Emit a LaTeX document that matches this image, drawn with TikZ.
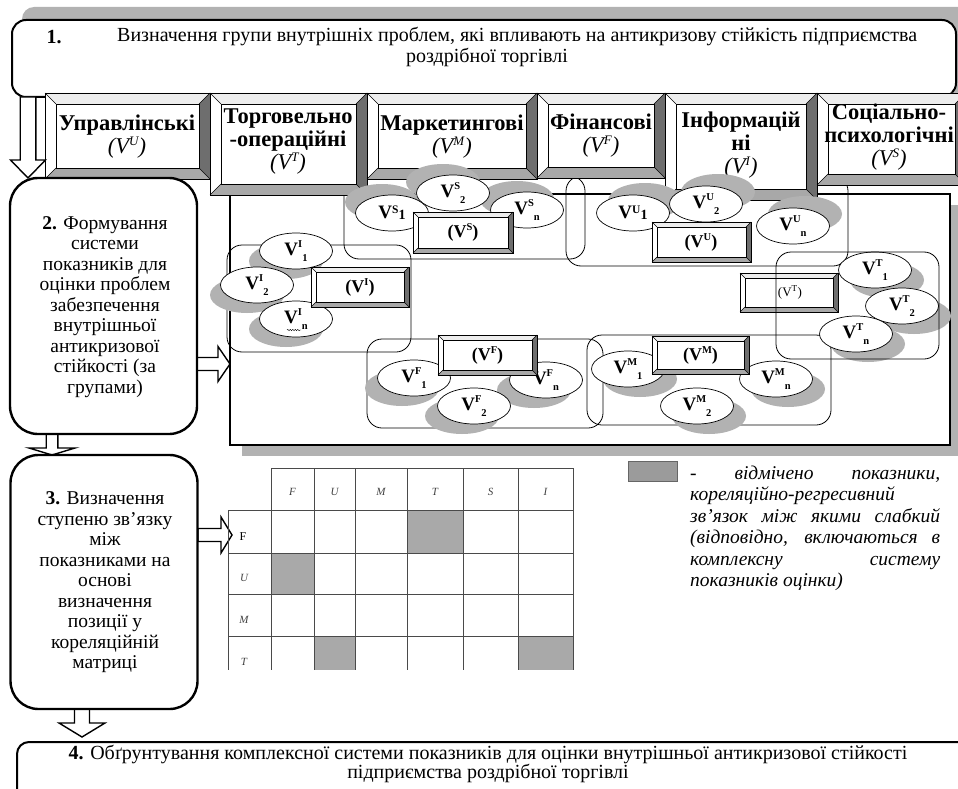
\documentclass[tikz,border=0pt]{standalone}
\usepackage{fontspec}
\setmainfont{Liberation Serif}
\usetikzlibrary{shapes.geometric,decorations.pathmorphing}
\definecolor{shd}{HTML}{B2B2B2}
\definecolor{bvdark}{HTML}{6E6E6E}
\definecolor{bvmid}{HTML}{A8A8A8}
\definecolor{bvlight}{HTML}{EDEDED}
\definecolor{cellgray}{HTML}{A9A9A9}
\definecolor{gridc}{HTML}{4A4A4A}
\definecolor{leggray}{HTML}{9B9B9B}
\newcommand\bodyfont{\fontsize{19.5}{20.5}\selectfont}
\newcommand\topfont{\fontsize{20}{20}\selectfont}
\newcommand\catfont{\fontsize{22.5}{23}\selectfont\bfseries}
\newcommand\smallsz{\fontsize{10.5}{10.5}\selectfont}
\newcommand\vl[2]{V\raisebox{8pt}{\smallsz #1}\raisebox{-5.5pt}{\smallsz #2}}
\newcommand\vlb[2]{V\raisebox{5pt}{\fontsize{11.5}{11.5}\selectfont #1}\raisebox{-1pt}{\fontsize{14}{14}\selectfont #2}}
\newcommand\vsym[1]{(V\raisebox{7pt}{\smallsz #1})}
\newcommand\catsym[1]{{\mdseries\itshape (V\raisebox{8pt}{\fontsize{13}{13}\selectfont #1})}}
\newcommand\bevelbox[5]{%
  \fill[white] (#1,#2) rectangle (#3,#4);
  \fill[bvlight] (#1,#2) -- (#3,#2) -- ({#3-#5},{#2+#5}) -- ({#1+#5},{#2+#5}) -- cycle;
  \fill[white] (#1,#2) -- ({#1+#5},{#2+#5}) -- ({#1+#5},{#4-#5}) -- (#1,#4) -- cycle;
  \fill[bvdark] (#3,#2) -- (#3,#4) -- ({#3-#5},{#4-#5}) -- ({#3-#5},{#2+#5}) -- cycle;
  \fill[bvmid] (#1,#4) -- (#3,#4) -- ({#3-#5},{#4-#5}) -- ({#1+#5},{#4-#5}) -- cycle;
  \draw[bvline] (#1,#2) rectangle (#3,#4);
  \draw[bvline] ({#1+#5},{#2+#5}) rectangle ({#3-#5},{#4-#5});
  \draw[bvline] (#1,#2) -- ({#1+#5},{#2+#5}) (#3,#2) -- ({#3-#5},{#2+#5})
     (#1,#4) -- ({#1+#5},{#4-#5}) (#3,#4) -- ({#3-#5},{#4-#5});}
\newcommand\hollowdown[6]{%
  \draw[arrowshape] ({#1-#5},#2) -- ({#1-#5},#3) -- ({#1-#6},#3) -- (#1,#4) -- ({#1+#6},#3) -- ({#1+#5},#3) -- ({#1+#5},#2) -- cycle;}
\newcommand\hollowright[6]{%
  \draw[arrowshape] (#2,{#1-#5}) -- (#3,{#1-#5}) -- (#3,{#1-#6}) -- (#4,#1) -- (#3,{#1+#6}) -- (#3,{#1+#5}) -- (#2,{#1+#5}) -- cycle;}
\tikzset{
  bvline/.style={draw=black, line width=0.6pt},
  arrowshape/.style={draw=black, fill=white, line width=1.4pt, line join=miter},
  bigbox/.style={draw=black, fill=white, line width=2.4pt, rounded corners=28pt},
  grp/.style={draw=black, line width=0.8pt, rounded corners=15pt},
  ell/.style={ellipse, draw=black, fill=white, line width=0.7pt, minimum width=73pt, minimum height=36pt, inner sep=0pt, font=\fontsize{19}{19}\selectfont\bfseries},
  cat/.style={align=center, font=\catfont, inner sep=0pt},
  vlab/.style={font=\fontsize{18}{18}\selectfont\bfseries, inner sep=0pt},
  body/.style={align=center, font=\bodyfont, inner sep=0pt},
  hdr/.style={font=\fontsize{11}{11}\selectfont\itshape, text=black!75, inner sep=0pt},
  leg/.style={anchor=base west, font=\fontsize{19.5}{19.5}\selectfont\itshape, inner sep=0pt},
}
\begin{document}
\begin{tikzpicture}[x=1pt,y=-1pt]
\useasboundingbox (0,0) rectangle (958,789);
\clip (0,0) rectangle (958,789);
% ---- box 1
\fill[shd, rounded corners=12pt] (22,7) rectangle (980,95);
\draw[draw=black, fill=white, line width=2pt, rounded corners=14pt] (12,20) rectangle (956,97);
\node[font=\topfont\bfseries, inner sep=0pt] (n1) at (54,37) {1.};
\node[font=\topfont, anchor=west, inner sep=0pt] (t1a) at (117,37) {Визначення групи внутрішніх проблем, які впливають на антикризову стійкість підприємства};
\node[font=\topfont, inner sep=0pt] (t1b) at (487,57) {роздрібної торгівлі};
% ---- panel
\fill[shd] (242,205) rectangle (962,456);
\draw[draw=black, fill=white, line width=1.8pt] (230,194) rectangle (950,445);
% ---- group outlines
\draw[grp] (227,245) rectangle (411,352);
\draw[grp] (344,176) rectangle (585,259);
\draw[grp] (566,176) rectangle (848,266);
\draw[grp] (367,339) rectangle (603,428);
\draw[grp] (587,335) rectangle (831,425);
% ---- category boxes
\bevelbox{45}{93}{210}{179}{11}
\bevelbox{210}{93}{367}{195}{11}
\bevelbox{367}{93}{537}{179}{11}
\bevelbox{537}{93}{665}{178}{11}
\bevelbox{665}{93}{817}{200}{11}
\bevelbox{817}{93}{966}{185}{11}
\node[cat] (cU) at (127,136.5) {Управлінські\\\catsym{U}};
\node[cat] (cT) at (288,141.5) {Торговельно\\-операційні\\\catsym{T}};
\node[cat] (cM) at (452,137) {Маркетингові\\\catsym{M}};
\node[cat] (cF) at (601,136) {Фінансові\\\catsym{F}};
\node[cat] (cI) at (741,145) {Інформацій\\ні\\\catsym{I}};
\node[cat] (cS) at (889,137.5) {Соціально-\\психологічні\\\catsym{S}};
% ---- ellipse shadows
\fill[shd] (382,202) ellipse (37 and 18);
\fill[shd] (443,182) ellipse (37 and 18);
\fill[shd] (517,199) ellipse (37 and 18);
\fill[shd] (645,201) ellipse (37 and 18);
\fill[shd] (718,192) ellipse (37 and 18);
\fill[shd] (805,214) ellipse (37 and 18);
\fill[shd] (286,261) ellipse (37 and 18);
\fill[shd] (247,295) ellipse (37 and 18);
\fill[shd] (286,329) ellipse (37 and 18);
\fill[shd] (887,280) ellipse (37 and 18);
\fill[shd] (914,316) ellipse (37 and 18);
\fill[shd] (868,344) ellipse (37 and 18);
\fill[shd] (402,388) ellipse (37 and 18);
\fill[shd] (462,416) ellipse (37 and 18);
\fill[shd] (534,390) ellipse (37 and 18);
\fill[shd] (640,379) ellipse (37 and 18);
\fill[shd] (709,416) ellipse (37 and 18);
\fill[shd] (788,389) ellipse (37 and 18);
% ---- ellipses
\node[ell] (s1) at (392,213) {\vlb{S}{1}};
\node[ell] (s2) at (453,193) {\vl{S}{2}};
\node[ell] (sn) at (527,210) {\vl{S}{n}};
\node[ell] (u1) at (633,213) {\vlb{U}{1}};
\node[ell] (u2) at (706,204) {\vl{U}{2}};
\node[ell] (un) at (793,226) {\vl{U}{n}};
\node[ell] (i1) at (296,251) {\vl{I}{1}};
\node[ell] (i2) at (257,285) {\vl{I}{2}};
\node[ell] (in) at (296,319) {\vl{I}{n}};
\draw[decorate, decoration={snake, amplitude=0.7pt, segment length=2.5pt}, line width=0.4pt] (287,330) -- (301,330);
\node[ell] (t1) at (875,270) {\vl{T}{1}};
\node[ell] (t2) at (902,306) {\vl{T}{2}};
\node[ell] (tn) at (856,334) {\vl{T}{n}};
\node[ell] (f1) at (414,378) {\vl{F}{1}};
\node[ell] (f2) at (474,406) {\vl{F}{2}};
\node[ell] (fn) at (546,380) {\vl{F}{n}};
\node[ell] (m1) at (628,369) {\vl{M}{1}};
\node[ell] (m2) at (697,406) {\vl{M}{2}};
\node[ell] (mn) at (776,379) {\vl{M}{n}};
% ---- group boxes
\bevelbox{311}{267}{409}{307}{5}
\node[vlab] (bI) at (360,287) {\vsym{I}};
\bevelbox{413}{212}{513}{253}{5}
\node[vlab] (bS) at (463,232.5) {\vsym{S}};
\bevelbox{652}{222}{751}{262}{5}
\node[vlab] (bU) at (701,242) {\vsym{U}};
\bevelbox{740}{273}{838}{312}{5}
\node[font=\fontsize{13}{13}\selectfont, inner sep=0pt] (bT) at (790,292.5) {(V\textsuperscript{T})};
\bevelbox{438}{335}{537}{375}{5}
\node[vlab] (bF) at (487.5,355) {\vsym{F}};
\bevelbox{652}{336}{749}{374}{5}
\node[vlab] (bM) at (700.5,355) {\vsym{M}};
\draw[grp] (776,252) rectangle (939,359);
% ---- arrows
\hollowdown{28}{97}{160}{178}{7.8}{17.5}
\hollowdown{52}{433}{448}{455}{5.8}{23}
\hollowdown{82}{709}{723}{737}{7.5}{23}
\hollowright{364}{196}{218}{230}{6.5}{17.5}
\hollowright{535}{198}{221}{232}{6.5}{18}
% ---- box 2
\node[bigbox, minimum width=187pt, minimum height=256pt] (box2) at (103.5,306) {};
\node[body] (t2) at (105,307) {\textbf{2.} Формування\\системи\\показників для\\оцінки проблем\\забезпечення\\внутрішньої\\антикризової\\стійкості (за\\групами)};
% ---- box 3
\node[bigbox, minimum width=187pt, minimum height=254pt] (box3) at (104,582) {};
\node[body] (t3) at (105,582.5) {\textbf{3.} Визначення\\ступеню зв’язку\\між\\показниками на\\основі\\визначення\\позиції у\\кореляційній\\матриці};
% ---- box 4
\draw[draw=black, line width=2pt, rounded corners=12pt] (17,800) -- (17,742) -- (975,742);
\node[align=center, font=\fontsize{20}{17}\selectfont, inner sep=0pt] (t4) at (488,764) {\textbf{4.} Обґрунтування комплексної системи показників для оцінки внутрішньої антикризової стійкості\\підприємства роздрібної торгівлі};
% ---- matrix
\fill[cellgray] (407,510) rectangle (463,553);
\fill[cellgray] (271,553) rectangle (314,594);
\fill[cellgray] (314,636) rectangle (355,670);
\fill[cellgray] (518,636) rectangle (573,670);
\draw[gridc, line width=0.6pt] (271,468) -- (573,468)
  (228,510) -- (573,510) (228,553) -- (573,553) (228,594) -- (573,594) (228,636) -- (573,636)
  (228,510) -- (228,670);
\foreach \xx in {271,314,355,407,463,518,573} { \draw[gridc, line width=0.6pt] (\xx,468) -- (\xx,670); }
\node[hdr] (hF) at (292.5,492) {F};
\node[hdr] (hU) at (334.5,492) {U};
\node[hdr] (hM) at (381,492) {M};
\node[hdr] (hT) at (435,492) {T};
\node[hdr] (hS) at (490.5,492) {S};
\node[hdr] (hI) at (545.5,492) {I};
\node[font=\fontsize{12}{12}\selectfont, inner sep=0pt] (rF) at (243,537) {F};
\node[hdr] (rU) at (244,578) {U};
\node[hdr] (rM) at (244,620) {M};
\node[hdr] (rT) at (244,662) {T};
% ---- legend
\draw[fill=leggray, draw=black!60, line width=0.6pt] (628,461) rectangle (677,481);
\node[leg] (l1) at (690,479) {\makebox[250pt][s]{- відмічено показники,}};
\node[leg] (l2) at (690,500.5) {кореляційно-регресивний};
\node[leg] (l3) at (690,522) {\makebox[250pt][s]{зв'язок між якими слабкий}};
\node[leg] (l4) at (690,543.5) {\makebox[250pt][s]{(відповідно, включаються в}};
\node[leg] (l5) at (690,565) {\makebox[250pt][s]{комплексну систему}};
\node[leg] (l6) at (690,586.5) {показників оцінки)};
\end{tikzpicture}
\end{document}
